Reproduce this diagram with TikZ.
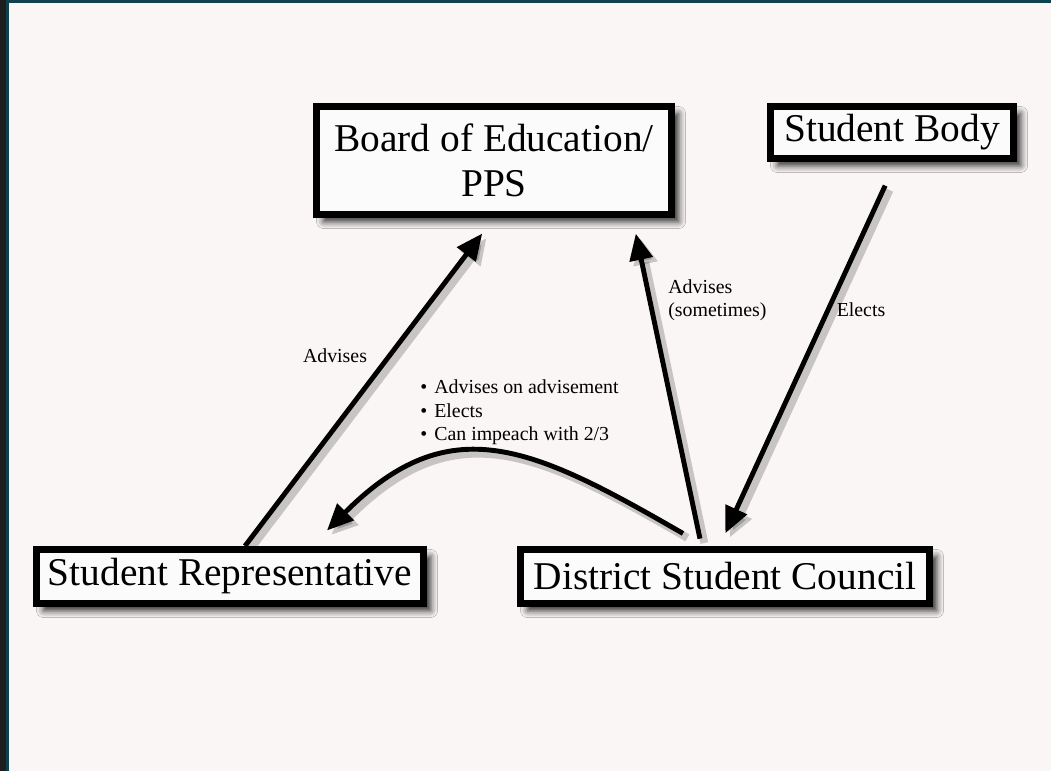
\documentclass[tikz,border=0pt]{standalone}
\usepackage{fontspec}
\setmainfont{Liberation Serif}
\usepackage{tikz}
\usetikzlibrary{arrows.meta,positioning,shadows.blur}
\usepackage{xcolor}
\definecolor{pgframe}{RGB}{30,30,30}
\definecolor{pgteal}{RGB}{16,66,78}
\definecolor{pgpaper}{RGB}{250,246,245}
\definecolor{pgbox}{RGB}{251,251,251}
\tikzstyle{orgbox} = [rectangle, draw=black, fill=pgbox, line width=4pt, inner sep=0pt, text centered, font=\fontsize{22.4}{26}\selectfont, blur shadow={shadow xshift=4pt, shadow yshift=-4pt, shadow blur radius=4pt, shadow opacity=85}]
\tikzstyle{arrow} = [line width=2.8pt, -{Triangle[length=15pt,width=13pt]}, color=black, preaction={draw=black, opacity=0.2, line width=4.5pt, transform canvas={shift={(2.5pt,-2.5pt)}}}]
\tikzstyle{note} = [font=\fontsize{11.3}{13.3}\selectfont, inner sep=0pt]

\begin{document}
\begin{tikzpicture}
% Frame and paper
\fill[pgframe] (0,0) rectangle (21.02,15.42);
\fill[pgteal] (0.12,0) rectangle (21.02,15.42);
\fill[pgpaper] (0.18,0) rectangle (21.02,15.36);

% Boxes
\node[orgbox, minimum width=7.1cm, minimum height=2.16cm, align=center] (board) at (9.88,12.21) {Board of Education/\\PPS};
\node[orgbox, minimum width=4.86cm, minimum height=1.04cm] (body) at (17.84,12.77) {Student Body};
\node[orgbox, minimum width=7.74cm, minimum height=1.08cm] (rep) at (4.6,3.89) {Student Representative};
\node[orgbox, minimum width=8.18cm, minimum height=1.08cm] (council) at (14.5,3.89) {District Student Council};

% Arrows
\draw[arrow, shorten >=0.39cm] ([xshift=0.3cm]rep.north) -- (board.south);
\draw[arrow, shorten <=0.15cm, shorten >=0.32cm] ([xshift=-0.47cm]council.north) -- ([xshift=2.77cm]board.south);
\draw[arrow, shorten <=0.52cm, shorten >=0.28cm] ([xshift=0.08cm]body.south) -- ([xshift=-0.11cm]council.north);
\draw[arrow] ([xshift=-0.84cm,yshift=0.25cm]council.north) to[out=150,in=45,looseness=1.25] ([xshift=1.94cm,yshift=0.31cm]rep.north);

% Labels
\node[note] (advrep) at (6.7,8.3) {Advises};
\node[note, anchor=west, align=left] (duties) at (8.4,7.17) {\textbullet\hspace{4pt}Advises on advisement\\\textbullet\hspace{4pt}Elects\\\textbullet\hspace{4pt}Can impeach with 2/3};
\node[note, anchor=west, align=left] (advcouncil) at (13.36,9.42) {Advises\\(sometimes)};
\node[note] (elects) at (17.22,9.22) {Elects};
\end{tikzpicture}
\end{document}
